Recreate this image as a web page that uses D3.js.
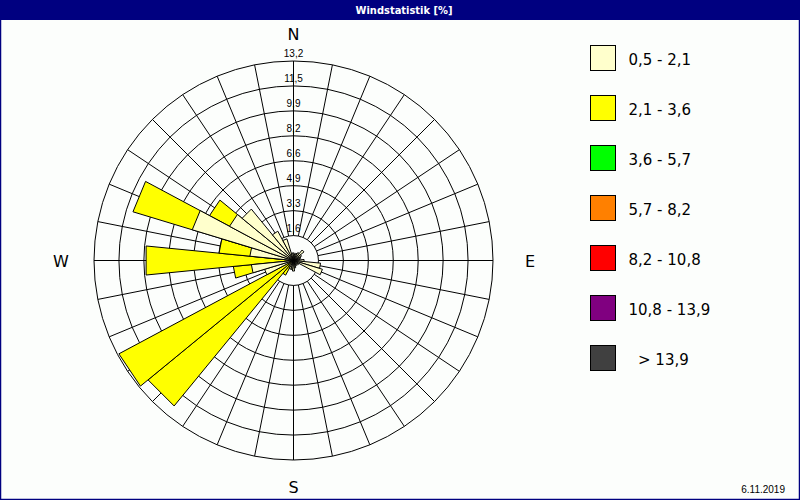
<!DOCTYPE html>
<html>
<head>
<meta charset="utf-8">
<script src="https://cdn.jsdelivr.net/npm/d3@7"></script>
<style>
  body { margin: 0; background: #fff; }
  svg { display: block; }
</style>
</head>
<body>
<script>
//wind rose: 32 directions, stacked by wind speed class
(function(){

    //chart data
    var directions = d3.range(32).map(function(i){ return i * 11.25; }); //compass degrees
    //frequency [%] of class 0,5 - 2,1 per direction (N, clockwise)
    var classLight = [0.5, 0.4, 0.5, 0.6, 0.9, 0.6, 0.5, 0.4,
                      0.7, 1.8, 2.0, 0.4, 0.4, 0.3, 0.4, 0.5,
                      0.7, 0.6, 0.6, 0.5, 0.0, 0.0, 2.0, 2.8,
                      0.0, 2.9, 7.0, 4.8, 4.4, 2.2, 1.5, 0.5];
    //frequency [%] of class 2,1 - 3,6 per direction
    var classYellow = [0, 0, 0, 0, 0, 0, 0, 0,
                       0, 0, 0, 0, 0, 0, 0, 0,
                       0, 0, 0, 0.6, 12.45, 13.1, 0, 1.2,
                       9.8, 2.05, 4.1, 1.5, 0, 0, 0, 0];
    var ringValues = [1.65, 3.3, 4.95, 6.6, 8.25, 9.9, 11.55, 13.2];
    var ringLabels = ["1,6", "3,3", "4,9", "6,6", "8,2", "9,9", "11,5", "13,2"];
    var legendLabels = ["0,5 - 2,1", "2,1 - 3,6", "3,6 - 5,7", "5,7 - 8,2", "8,2 - 10,8", "10,8 - 13,9", "  > 13,9"];
    var legendColors = ["#FFFFCC", "#FFFF00", "#00FF00", "#FF8000", "#FF0000", "#800080", "#404040"];
    var compass = [{t: "N", a: 0}, {t: "E", a: 90}, {t: "S", a: 180}, {t: "W", a: 270}];

    var width = 800, height = 500;
    var cx = 293.5, cy = 260.5, R = 199.5;

    var svg = d3.select("body")
        .append("svg")
        .attr("width", width)
        .attr("height", height);

    //frame + title bar
    svg.append("rect")
        .attr("x", 0.5).attr("y", 0.5)
        .attr("width", width - 1).attr("height", height - 1)
        .attr("fill", "#fcfefc")
        .attr("stroke", "#000080")
        .attr("stroke-width", 1.5);
    svg.append("rect")
        .attr("x", 0).attr("y", 0)
        .attr("width", width).attr("height", 20)
        .attr("fill", "#000080");
    svg.append("text")
        .attr("x", 404).attr("y", 14)
        .attr("text-anchor", "middle")
        .attr("fill", "#fff")
        .style("font-family", "'DejaVu Sans Condensed', 'DejaVu Sans'")
        .style("font-weight", "bold")
        .style("font-size", "11px")
        .text("Windstatistik [%]");

    //radius scale
    var r = d3.scaleLinear().domain([0, 13.2]).range([0, R]);
    var toRad = function(d){ return d * Math.PI / 180; };

    var g = svg.append("g").attr("transform", "translate(" + cx + "," + cy + ")");

    //rings
    g.selectAll(".ring")
        .data(ringValues)
        .enter()
        .append("circle")
        .attr("class", "ring")
        .attr("r", function(d){ return r(d); })
        .attr("fill", "none")
        .attr("stroke", "#000")
        .attr("stroke-width", 1);

    //spokes
    g.selectAll(".spoke")
        .data(directions)
        .enter()
        .append("line")
        .attr("class", "spoke")
        .attr("x1", function(d){ return r(ringValues[0]) * Math.sin(toRad(d)); })
        .attr("y1", function(d){ return -r(ringValues[0]) * Math.cos(toRad(d)); })
        .attr("x2", function(d){ return R * Math.sin(toRad(d)); })
        .attr("y2", function(d){ return -R * Math.cos(toRad(d)); })
        .attr("stroke", "#000")
        .attr("stroke-width", 1);

    //bars
    var half = 5.625;
    var wedge = d3.lineRadial()
        .angle(function(p){ return toRad(p[0]); })
        .radius(function(p){ return r(p[1]); })
        .curve(d3.curveLinearClosed);

    function sector(a, v){
        return wedge([[a - half, 0], [a - half, v], [a + half, v], [a + half, 0]]);
    }

    var bars = directions.map(function(a, i){
        return {a: a, light: classLight[i], total: classLight[i] + classYellow[i]};
    });

    //outer class first (cumulative), then inner class on top
    g.selectAll(".bar2")
        .data(bars.filter(function(d){ return d.total > d.light; }))
        .enter()
        .append("path")
        .attr("class", "bar2")
        .attr("d", function(d){ return sector(d.a, d.total); })
        .attr("fill", legendColors[1])
        .attr("stroke", "#000")
        .attr("stroke-width", 1);

    g.selectAll(".bar1")
        .data(bars.filter(function(d){ return d.light > 0; }))
        .enter()
        .append("path")
        .attr("class", "bar1")
        .attr("d", function(d){ return sector(d.a, d.light); })
        .attr("fill", legendColors[0])
        .attr("stroke", "#000")
        .attr("stroke-width", 1);

    //ring labels on N axis
    g.selectAll(".rlab")
        .data(ringValues)
        .enter()
        .append("text")
        .attr("class", "rlab")
        .attr("x", 0)
        .attr("y", function(d){ return -r(d) - 4; })
        .attr("text-anchor", "middle")
        .style("font-family", "'Liberation Sans', Arial")
        .style("font-size", "10px")
        .text(function(d, i){ return ringLabels[i]; });

    //compass letters
    g.selectAll(".dir")
        .data(compass)
        .enter()
        .append("text")
        .attr("class", "dir")
        .attr("x", function(d){ var s = Math.sin(toRad(d.a)); return (R + 35) * s + 2 * Math.abs(s); })
        .attr("y", function(d){ return -(R + 27) * Math.cos(toRad(d.a)) + 6; })
        .attr("text-anchor", "middle")
        .style("font-family", "'DejaVu Sans'")
        .style("font-size", "16px")
        .text(function(d){ return d.t; });

    //legend
    var leg = svg.selectAll(".leg")
        .data(legendLabels)
        .enter()
        .append("g")
        .attr("class", "leg")
        .attr("transform", function(d, i){ return "translate(590.5," + (45.5 + i * 50) + ")"; });
    leg.append("rect")
        .attr("width", 25).attr("height", 25)
        .attr("fill", function(d, i){ return legendColors[i]; })
        .attr("stroke", "#000")
        .attr("stroke-width", 1);
    leg.append("text")
        .attr("x", 38).attr("y", 19)
        .style("font-family", "'DejaVu Sans'")
        .style("font-size", "15px")
        .style("white-space", "pre")
        .text(function(d){ return d; });

    //date
    svg.append("text")
        .attr("x", 785).attr("y", 493)
        .attr("text-anchor", "end")
        .style("font-family", "'Liberation Sans', Arial")
        .style("font-size", "10px")
        .text("6.11.2019");

})();
</script>
</body>
</html>
